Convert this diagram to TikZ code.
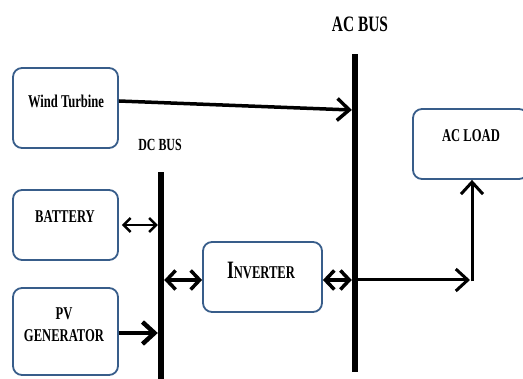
\documentclass[tikz,border=0pt]{standalone}
\usepackage{fontspec}
\setmainfont{Liberation Serif}
\newfontfamily\condfont[FakeStretch=0.7]{Liberation Serif}
\usetikzlibrary{arrows.meta}
\definecolor{boxblue}{RGB}{56,93,138}
\tikzset{
  blk/.style={draw=boxblue, line width=1.8pt, rounded corners=9pt, fill=white},
  lbl/.style={font=\condfont\bfseries\fontsize{18}{22}\selectfont, align=center, inner sep=0pt},
  bus/.style={fill=black, inner sep=0pt, minimum width=6pt},
  tip/.style={-{Straight Barb[length=12pt,width=22pt]}},
  tips/.style={{Straight Barb[length=9pt,width=19pt]}-{Straight Barb[length=9pt,width=19pt]}},
  tipsthin/.style={{Straight Barb[length=7pt,width=14pt]}-{Straight Barb[length=7pt,width=14pt]}},
}
\begin{document}
\begin{tikzpicture}[x=1pt,y=-1pt]
\useasboundingbox (0,0) rectangle (523,379);
% boxes
\node[blk, minimum width=105pt, minimum height=80pt] (wt) at (65.5,108) {};
\node[lbl] (wtl) at (66,101) {Wind Turbine};
\node[blk, minimum width=105pt, minimum height=70pt] (bat) at (65.5,225) {};
\node[lbl] (batl) at (65,217) {BATTERY};
\node[blk, minimum width=105pt, minimum height=87pt] (pv) at (65.5,331.5) {};
\node[lbl] (pvl) at (64,325) {PV\\GENERATOR};
\node[blk, minimum width=119pt, minimum height=70pt] (inv) at (262.5,277) {};
\node[lbl] (invl) at (261,270) {{\fontsize{25}{25}\selectfont I}NVERTER};
\node[blk, minimum width=115pt, minimum height=70pt] (load) at (470.5,144) {};
\node[lbl] (loadl) at (471,136) {AC LOAD};
% buses
\node[bus, minimum height=207pt] (dcbus) at (161,275.5) {};
\node[bus, minimum height=318pt] (acbus) at (355,213) {};
\node[lbl, font=\condfont\bfseries\fontsize{17}{19}\selectfont] (dcl) at (160,145) {DC BUS};
\node[lbl, font=\condfont\bfseries\fontsize{22}{24}\selectfont] (acl) at (360,24) {AC BUS};
% connectors
\coordinate (wtend) at (acbus.west |- 0,110);
\draw[tip, line width=3.5pt] ([yshift=7pt]wt.east) -- (wtend);
\coordinate (batend) at (dcbus.west |- bat.east);
\draw[tipsthin, line width=2.4pt] ([xshift=3pt]bat.east) -- (batend);
\coordinate (pvend) at (dcbus.west |- 0,333);
\draw[tip, line width=4.5pt] (pv.east |- pvend) -- (pvend);
\coordinate (dcinv) at (dcbus.east |- 0,280);
\draw[tips, line width=3.5pt] (dcinv) -- (inv.west |- dcinv);
\coordinate (acinv) at (acbus.west |- 0,280);
\draw[tips, line width=3.5pt] (inv.east |- acinv) -- (acinv);
\coordinate (acout) at (acbus.east |- 0,280);
\coordinate (corner) at (472,280);
\draw[tip, line width=3pt] (acout) -- ([xshift=-2pt]corner);
\draw[tip, line width=3pt] ([yshift=-1.5pt]corner) -- (load.south -| corner);
\end{tikzpicture}
\end{document}
